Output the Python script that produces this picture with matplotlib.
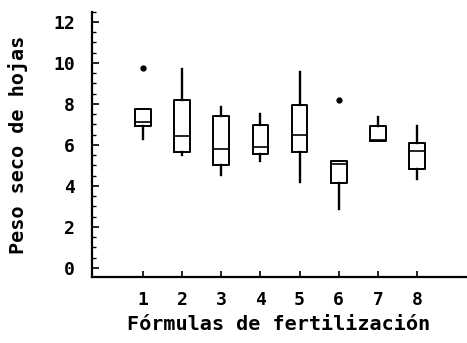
import matplotlib
matplotlib.use("Agg")
import matplotlib.pyplot as plt
from matplotlib.ticker import MultipleLocator

# Box-plot summaries, one entry per fertilizer formula
formulas = [1, 2, 3, 4, 5, 6, 7, 8]
whisker_low = [6.31, 5.50, 4.55, 5.22, 4.20, 2.86, 6.18, 4.36]
q1 = [6.93, 5.66, 5.01, 5.58, 5.66, 4.15, 6.18, 4.81]
median = [7.10, 6.44, 5.80, 5.90, 6.47, 5.06, 6.23, 5.71]
q3 = [7.73, 8.18, 7.43, 6.95, 7.97, 5.22, 6.93, 6.07]
whisker_high = [7.73, 9.68, 7.85, 7.50, 9.56, 5.22, 7.34, 6.93]
outliers = [[9.73], [], [], [], [], [8.18], [], []]

font = {"family": "DejaVu Sans Mono", "weight": "bold"}

stats = []
for i in range(len(formulas)):
    stats.append({
        "whislo": whisker_low[i], "q1": q1[i], "med": median[i],
        "q3": q3[i], "whishi": whisker_high[i], "fliers": outliers[i],
    })

fig = plt.figure(figsize=(4.67, 3.43), dpi=100)
ax = fig.add_axes([0.196, 0.192, 0.802, 0.774])

ax.bxp(stats, positions=formulas, widths=0.4, showcaps=False,
       boxprops=dict(color="black", linewidth=1.4),
       medianprops=dict(color="black", linewidth=1.2),
       whiskerprops=dict(color="black", linewidth=1.7),
       flierprops=dict(marker="o", markersize=3.5, markerfacecolor="black",
                       markeredgecolor="black"))

ax.set_xlim(-0.31, 9.25)
ax.set_ylim(-0.45, 12.5)
ax.set_xticks(formulas)
ax.set_xticklabels([str(f) for f in formulas], fontdict=font, fontsize=13)
ax.set_yticks(range(0, 13, 2))
ax.set_yticklabels([str(v) for v in range(0, 13, 2)], fontdict=font, fontsize=13)
ax.yaxis.set_minor_locator(MultipleLocator(0.5))

ax.tick_params(axis="y", which="major", direction="in", length=5, width=1.2, pad=12)
ax.tick_params(axis="y", which="minor", direction="in", length=3, width=1)
ax.tick_params(axis="x", which="major", direction="in", length=4, width=1.2, pad=10)

for side in ["top", "right"]:
    ax.spines[side].set_visible(False)
for side in ["left", "bottom"]:
    ax.spines[side].set_linewidth(1.6)

ax.set_xlabel("Fórmulas de fertilización", fontdict=font, fontsize=14.5, labelpad=4)
ax.set_ylabel("Peso seco de hojas", fontdict=font, fontsize=14.5, labelpad=18)

fig.savefig("out.png", dpi=100)
